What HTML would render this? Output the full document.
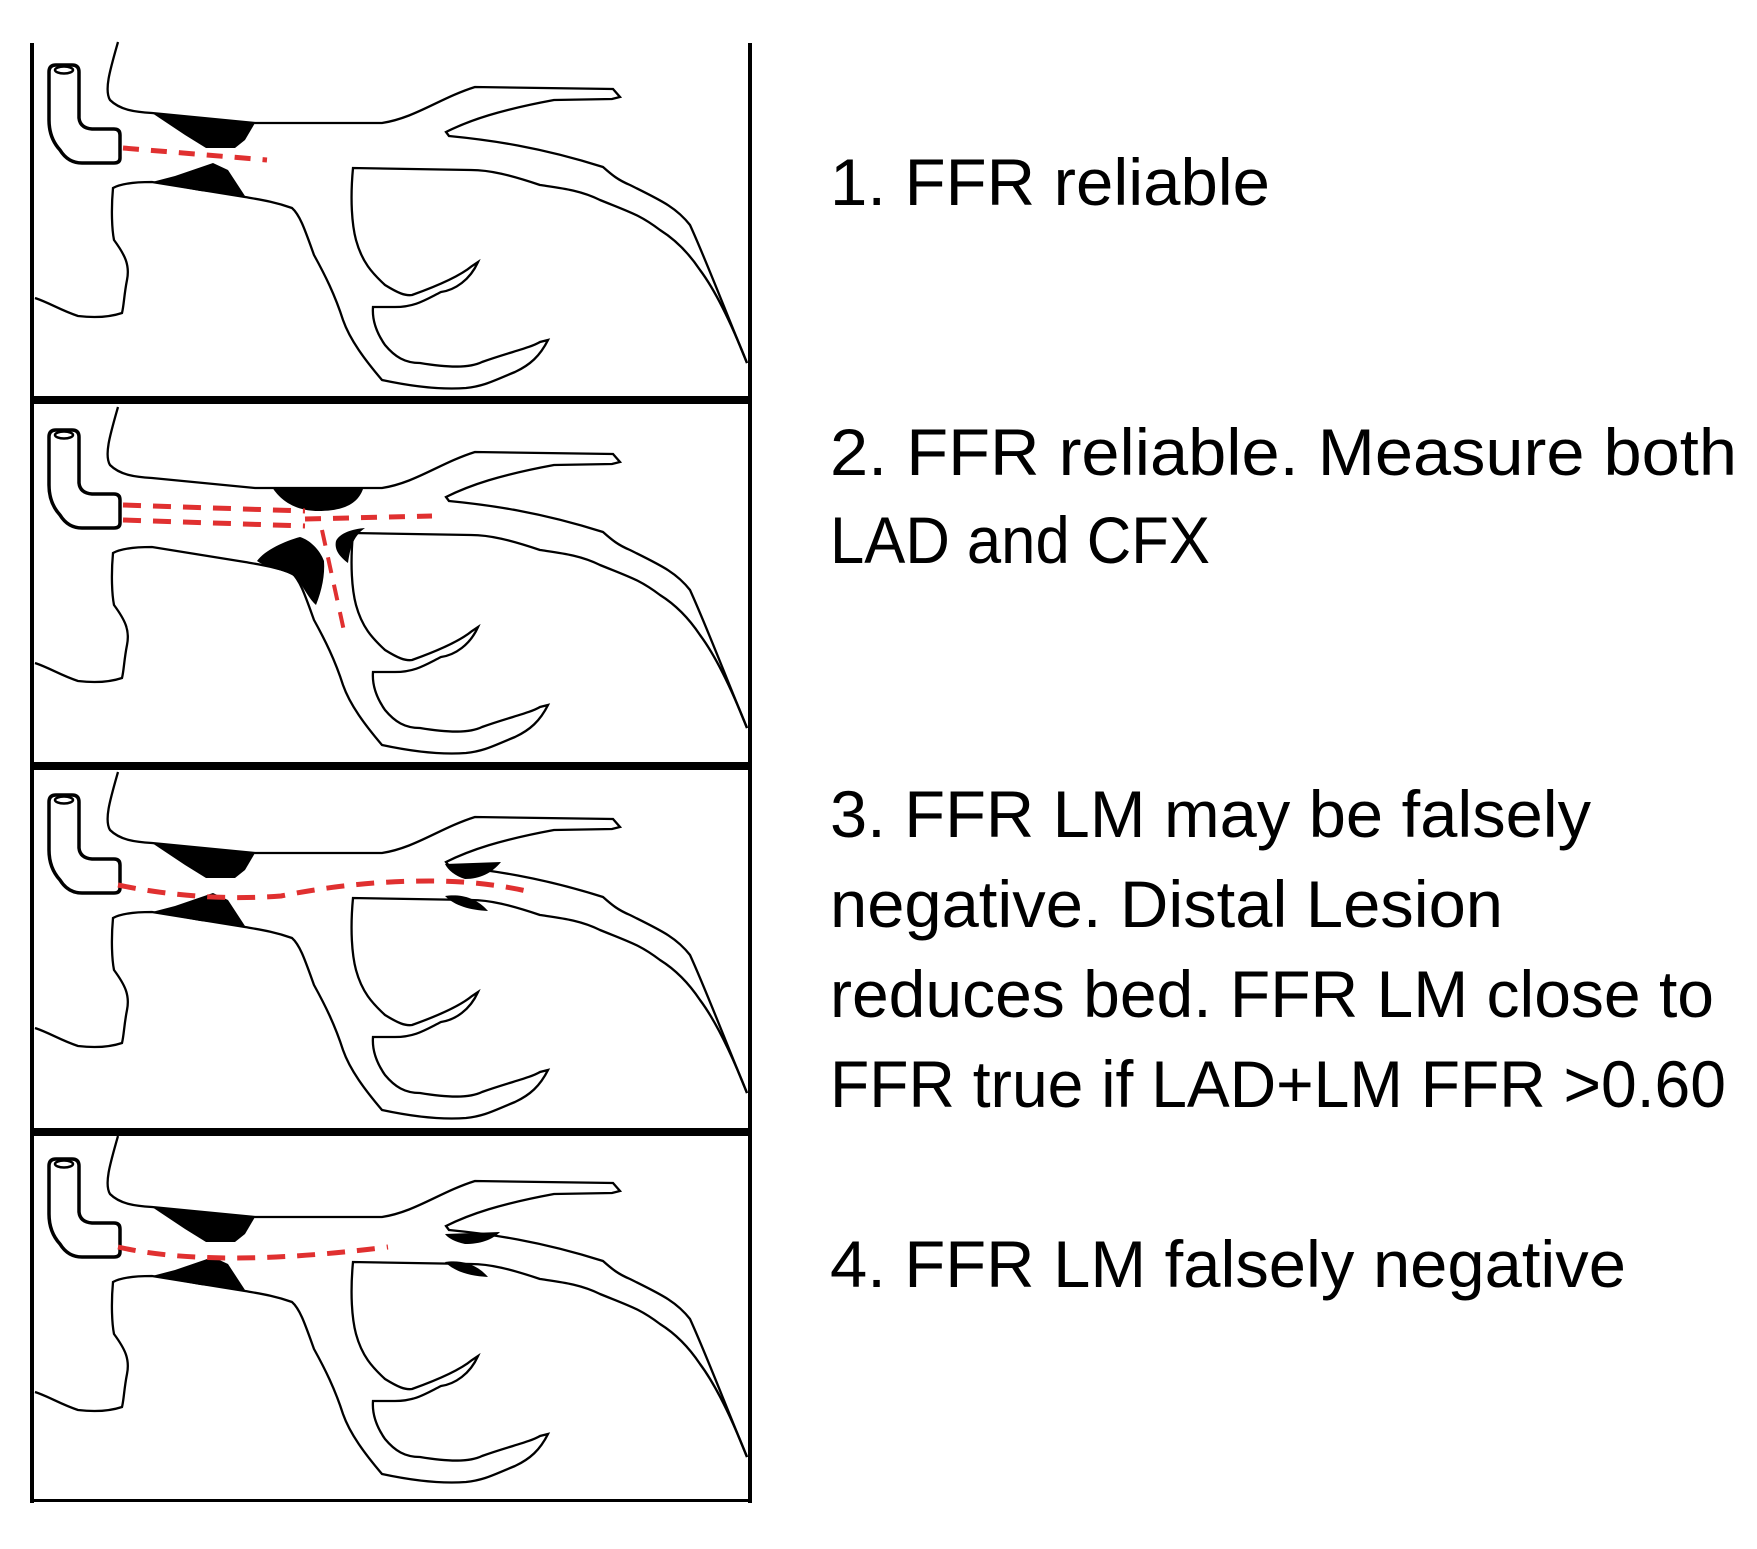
<!DOCTYPE html>
<html><head><meta charset="utf-8"><style>
html,body{margin:0;padding:0;background:#fff;}
svg{display:block;}
text{font-family:"Liberation Sans",sans-serif;font-size:66px;fill:#000;}
</style></head><body>
<svg width="1757" height="1549" viewBox="0 0 1757 1549" xmlns="http://www.w3.org/2000/svg">
<defs>
<g id="v">
 <path d="M49,72 Q49,65 56,65 L72,65 Q79,65 79,72 L79,118 Q80,128 92,129 L114,129 Q120,129 120,135 L120,158 Q120,163 114,163 L82,163 Q68,163 60,150 Q49,138 49,120 Z" fill="#fff" stroke="#000" stroke-width="3.5"/>
 <ellipse cx="64" cy="70" rx="9" ry="3.5" fill="none" stroke="#000" stroke-width="2.5"/>
 <path d="M118,42 C110,70 104,90 110,100 C120,110 135,112 152,113 L255,123 L382,123 C415,118 440,98 475,87 L613,89 L620,97 L612,99 L554,100 C500,110 470,120 446,132 L449,136 C490,140 540,147 603,167 C612,175 618,180 630,185 C660,200 676,207 690,225 C706,260 725,310 747,363" fill="none" stroke="#000" stroke-width="2.3"/>
 <path d="M747,363 C730,320 715,290 700,270 C690,255 676,240 660,230 C640,215 632,213 600,200 C580,190 560,188 540,185 C510,175 490,170 471,170 L353,168 C350,200 352,225 356,240 C362,262 372,273 385,285 C398,293 405,296 412,295 C440,285 460,276 472,266 L478,262 C470,280 455,290 441,292 C425,300 415,307 395,307 L373,307 C372,320 376,332 385,345 C395,357 405,363 420,363 C450,368 470,368 482,362 C510,352 530,348 540,342 L548,340 C540,356 530,365 515,372 C495,380 485,386 466,388 C440,390 410,386 382,380 C365,360 350,340 343,320 C335,295 325,275 314,255 C305,230 300,215 292,208 C275,202 262,200 245,197 L152,182 C135,182 120,184 113,188 C111,210 112,230 114,240 C125,255 130,265 127,280 C124,295 124,305 122,313 C110,317 95,318 78,316 C60,310 50,303 35,298" fill="none" stroke="#000" stroke-width="2.3"/>
</g>
<g id="w1">
 <path d="M152,113 L255,123 L245,140 L235,148 L206,148 L185,135 Z" fill="#000"/>
 <path d="M213,163 L228,170 L245,196 L200,191 L152,182 L175,176 Z" fill="#000"/>
</g>
</defs>
<rect x="30" y="43" width="4" height="1460" fill="#000"/>
<rect x="748" y="43" width="4" height="1460" fill="#000"/>
<rect x="30" y="396" width="722" height="8" fill="#000"/>
<rect x="30" y="762" width="722" height="8" fill="#000"/>
<rect x="30" y="1128" width="722" height="8" fill="#000"/>
<rect x="30" y="1499" width="722" height="3" fill="#000"/>

<g>
 <use href="#v"/>
 <use href="#w1"/>
 <path d="M123,148 L267,160" stroke="#e03030" stroke-width="5" stroke-dasharray="16,12" fill="none"/>
</g>

<g transform="translate(0,365)">
 <use href="#v"/>
 <path d="M272,122 L363,124 C358,138 345,146 318,146 C295,146 280,135 272,122 Z" fill="#000"/>
 <path d="M300,172 C285,176 265,185 257,196 C270,205 290,205 298,215 C305,225 310,235 316,240 C322,225 325,210 324,196 C320,185 310,175 300,172 Z" fill="#000"/>
 <path d="M336,176 C340,168 352,164 365,163 C352,172 350,185 348,198 C340,192 334,185 336,176 Z" fill="#000"/>
 <path d="M123,140 L305,146" stroke="#e03030" stroke-width="5" stroke-dasharray="18,12" fill="none"/>
 <path d="M123,155 L305,161" stroke="#e03030" stroke-width="5" stroke-dasharray="18,12" fill="none"/>
 <path d="M305,154 L432,151" stroke="#e03030" stroke-width="5" stroke-dasharray="16,12" fill="none"/>
 <path d="M322,165 L344,266" stroke="#e03030" stroke-width="4" stroke-dasharray="16,12" fill="none"/>
</g>

<g transform="translate(0,730)">
 <use href="#v"/>
 <use href="#w1"/>
 <path d="M445,134 L501,132 C492,143 480,149 465,149 C455,146 448,140 445,134 Z" fill="#000"/>
 <path d="M445,166 C458,164 475,166 488,181 C470,180 455,176 445,166 Z" fill="#000"/>
 <path d="M118,155 Q200,172 281,166 Q360,150 439,151 Q490,152 535,163" stroke="#e03030" stroke-width="5" stroke-dasharray="18,12" fill="none"/>
</g>

<g transform="translate(0,1094)">
 <use href="#v"/>
 <use href="#w1"/>
 <path d="M445,140 L500,138 C492,146 480,150 465,150 C455,148 448,144 445,140 Z" fill="#000"/>
 <path d="M445,168 C458,166 475,168 488,183 C470,182 455,178 445,168 Z" fill="#000"/>
 <path d="M118,153 Q214,175 388,153" stroke="#e03030" stroke-width="5" stroke-dasharray="18,12" fill="none"/>
</g>

<text x="830" y="205" textLength="440" lengthAdjust="spacingAndGlyphs">1.  FFR reliable</text>
<text x="830" y="475" textLength="907" lengthAdjust="spacingAndGlyphs">2.  FFR reliable. Measure both</text>
<text x="830" y="563" textLength="380" lengthAdjust="spacingAndGlyphs">LAD and CFX</text>
<text x="830" y="837" textLength="761" lengthAdjust="spacingAndGlyphs">3.  FFR LM may be falsely</text>
<text x="830" y="927" textLength="673" lengthAdjust="spacingAndGlyphs">negative. Distal Lesion</text>
<text x="830" y="1017" textLength="884" lengthAdjust="spacingAndGlyphs">reduces bed. FFR LM close to</text>
<text x="830" y="1107" textLength="896" lengthAdjust="spacingAndGlyphs">FFR true if LAD+LM FFR &gt;0.60</text>
<text x="830" y="1287" textLength="796" lengthAdjust="spacingAndGlyphs">4.  FFR LM falsely negative</text>
</svg>
</body></html>
